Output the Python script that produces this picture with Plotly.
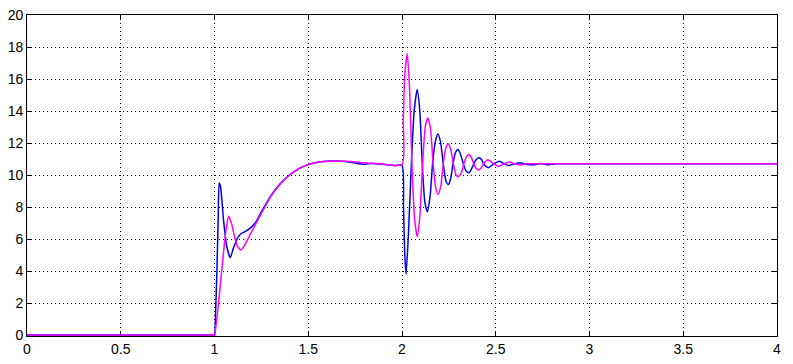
import plotly.graph_objects as go

# ---- data ----
blue_t = [0, 0.5, 0.95, 0.995, 1.0, 1.006, 1.013, 1.02, 1.025, 1.032, 1.048, 1.066, 1.084, 1.1, 1.12, 1.138, 1.16, 1.182,
          1.218, 1.25, 1.3, 1.35, 1.4, 1.45, 1.5, 1.55, 1.62, 1.7, 1.76, 1.8, 1.84, 1.9, 1.96, 2.0,
          2.008, 2.015, 2.022, 2.035, 2.05, 2.065, 2.081, 2.095, 2.108, 2.122, 2.135, 2.15, 2.163,
          2.178, 2.191, 2.205, 2.22, 2.235, 2.247, 2.26, 2.272, 2.285, 2.298, 2.312, 2.327, 2.342,
          2.357, 2.37, 2.383, 2.397, 2.41, 2.425, 2.435, 2.46, 2.49, 2.52, 2.545, 2.57, 2.6, 2.63,
          2.66, 2.7, 2.74, 2.78, 2.82, 3.0, 4.0]
blue_y = [0, 0, 0, 0, 0, 1.5, 4.1, 7.5, 9.5, 9.3, 7.2, 5.5, 4.84, 5.4, 6.0, 6.3, 6.45, 6.6,
          7.02, 7.7, 8.7, 9.45, 10.0, 10.4, 10.65, 10.8, 10.87, 10.85, 10.72, 10.68, 10.72, 10.68, 10.6, 10.6,
          8.0, 5.0, 3.8, 6.5, 10.7, 14.0, 15.33, 14.0, 10.7, 8.3, 7.71, 8.7, 10.7,
          12.1, 12.57, 12.1, 10.7, 9.6, 9.41, 9.8, 10.7, 11.4, 11.59, 11.3, 10.7, 10.25,
          10.14, 10.35, 10.7, 10.98, 11.08, 10.95, 10.7, 10.46, 10.7, 10.86, 10.7, 10.6, 10.7, 10.77,
          10.68, 10.64, 10.72, 10.64, 10.7, 10.7, 10.7]

magenta_t = [0, 0.5, 0.95, 0.995, 1.0, 1.01, 1.022, 1.035, 1.048, 1.062, 1.075, 1.09, 1.11, 1.125, 1.141, 1.16, 1.2,
             1.25, 1.3, 1.35, 1.4, 1.45, 1.5, 1.55, 1.62, 1.7, 1.8, 1.9, 2.0,
             2.007, 2.015, 2.028, 2.04, 2.053, 2.067, 2.081, 2.095, 2.11, 2.124, 2.138, 2.152, 2.166,
             2.18, 2.193, 2.207, 2.22, 2.234, 2.247, 2.26, 2.274, 2.288, 2.3, 2.315, 2.33, 2.344,
             2.357, 2.37, 2.383, 2.397, 2.41, 2.423, 2.435, 2.458, 2.49, 2.515, 2.545, 2.57, 2.6,
             2.63, 2.66, 2.7, 3.0, 4.0]
magenta_y = [0, 0, 0, 0, 0, 0.8, 2.04, 3.6, 5.15, 6.6, 7.43, 7.0, 6.0, 5.5, 5.32, 5.6, 6.5,
             7.6, 8.65, 9.42, 10.0, 10.4, 10.66, 10.8, 10.88, 10.86, 10.76, 10.68, 10.64,
             13.5, 16.3, 17.57, 15.5, 10.7, 7.3, 6.15, 7.4, 10.7, 13.0, 13.56, 12.9, 10.7,
             9.2, 8.78, 9.3, 10.7, 11.7, 11.96, 11.6, 10.7, 10.0, 9.9, 10.1, 10.7, 11.15,
             11.28, 11.1, 10.7, 10.4, 10.33, 10.45, 10.7, 10.95, 10.7, 10.54, 10.7, 10.81, 10.7,
             10.63, 10.7, 10.7, 10.7, 10.7]

x_ticks = [0, 0.5, 1, 1.5, 2, 2.5, 3, 3.5, 4]
x_tick_labels = ["0", "0.5", "1", "1.5", "2", "2.5", "3", "3.5", "4"]
y_ticks = [0, 2, 4, 6, 8, 10, 12, 14, 16, 18, 20]

fig = go.Figure()
fig.add_trace(go.Scatter(x=blue_t, y=blue_y, mode="lines",
                         line=dict(color="#0000e6", width=1.5, shape="spline", smoothing=0.6),
                         showlegend=False, hoverinfo="skip"))
fig.add_trace(go.Scatter(x=magenta_t, y=magenta_y, mode="lines",
                         line=dict(color="#ff00ff", width=1.5, shape="spline", smoothing=0.6),
                         showlegend=False, hoverinfo="skip"))

axis_common = dict(showline=True, linecolor="black", linewidth=1, mirror="allticks",
                   ticks="inside", ticklen=5, tickcolor="black", automargin=False,
                   layer="below traces", ticklabeloverflow="allow",
                   showgrid=True, gridcolor="black", gridwidth=1, griddash="1px,3px",
                   zeroline=False, tickfont=dict(family="Liberation Sans, Arial", size=14, color="black"))

fig.update_xaxes(range=[0, 4], tickvals=x_ticks, ticktext=x_tick_labels, **axis_common)
fig.update_yaxes(range=[-0.06, 20], tickvals=y_ticks, **axis_common)

# page body adds an 8px offset; compensate so the plot area sits at x 27-777, y 15-336
fig.update_layout(width=785, height=356, margin=dict(l=19, r=16, t=7, b=28),
                  paper_bgcolor="white", plot_bgcolor="white")

fig.write_html("out.html")
